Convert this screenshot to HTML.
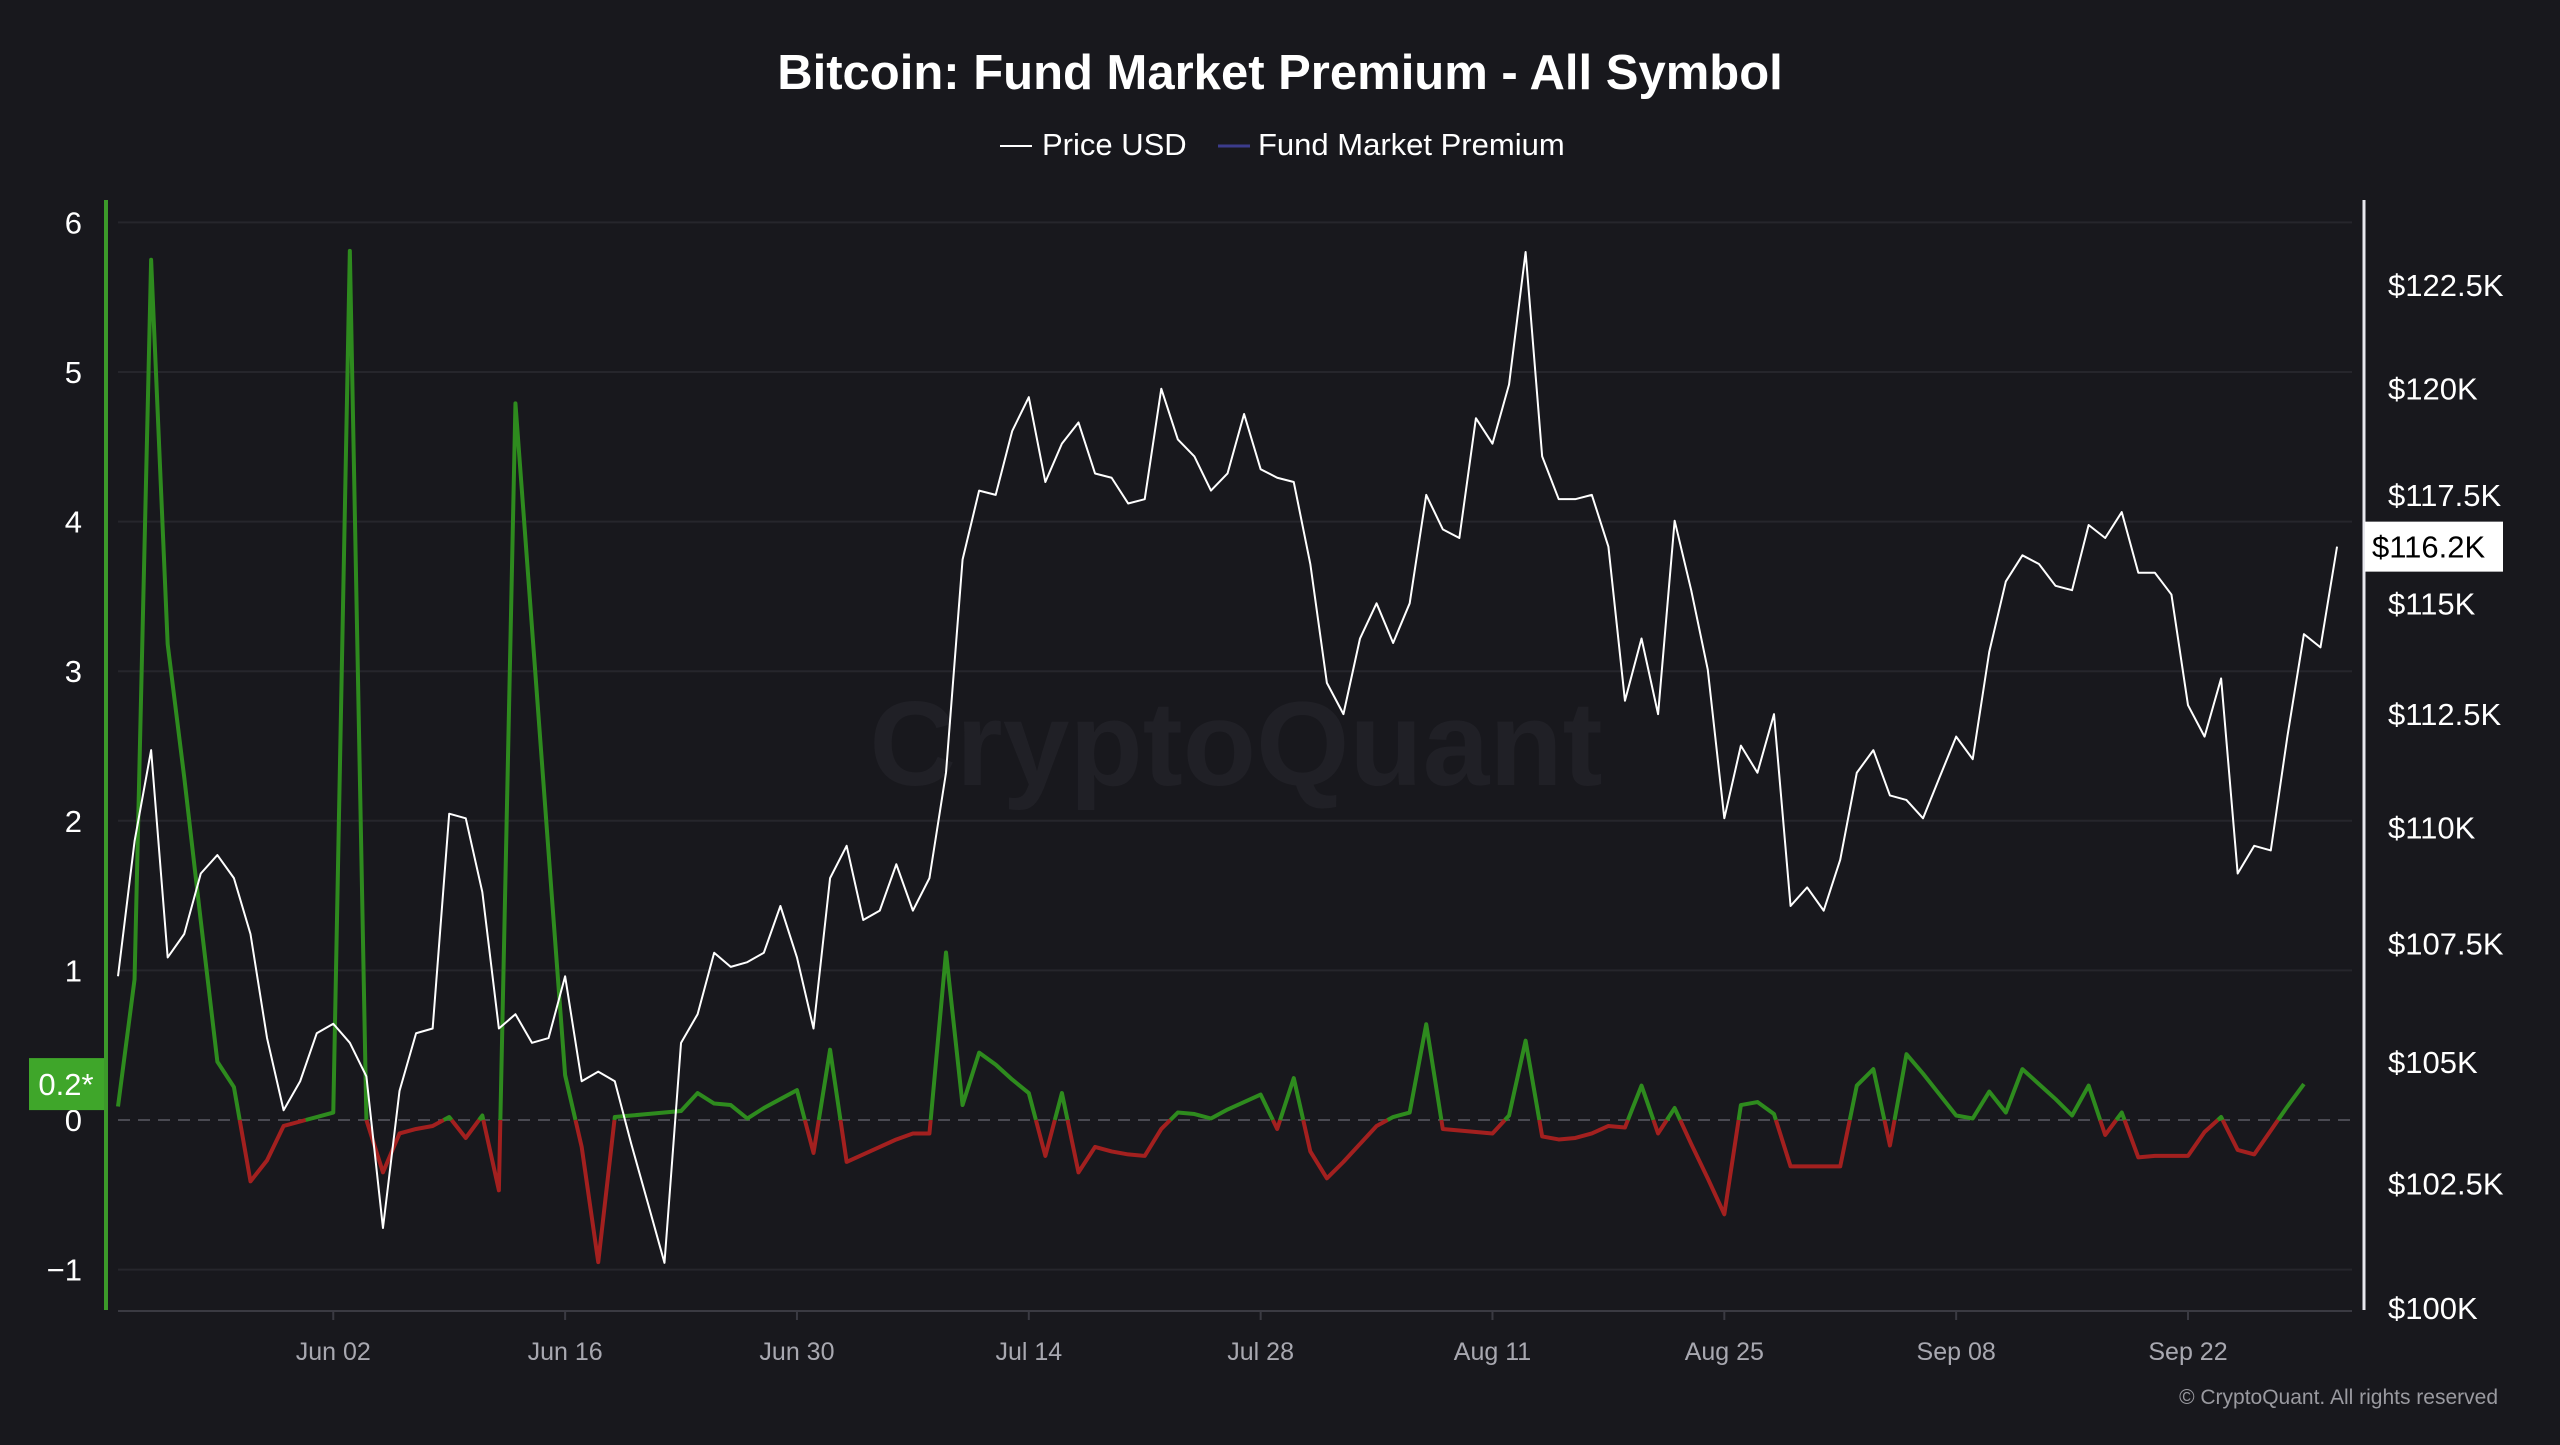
<!DOCTYPE html>
<html><head><meta charset="utf-8">
<style>
html,body{margin:0;padding:0;background:#18181d;}
body{width:2560px;height:1440px;overflow:hidden;font-family:"Liberation Sans",sans-serif;}
svg text{font-family:"Liberation Sans",sans-serif;}
</style></head>
<body>
<svg id="chart" width="2560" height="1440" viewBox="0 0 2560 1440" xmlns="http://www.w3.org/2000/svg">
<rect x="0" y="0" width="2560" height="1440" fill="#18181d"/>
<text x="1280" y="89" text-anchor="middle" fill="#ffffff" font-size="49" font-weight="bold">Bitcoin: Fund Market Premium - All Symbol</text>
<g>
<g>
<line x1="1000" y1="146" x2="1032" y2="146" stroke="#ffffff" stroke-width="2"/>
<text x="1042" y="155" fill="#ffffff" font-size="31">Price USD</text>
</g>
<g>
<line x1="1218" y1="146" x2="1250" y2="146" stroke="#3b3b8c" stroke-width="3"/>
<text x="1258" y="155" fill="#ffffff" font-size="31">Fund Market Premium</text>
</g>
</g>
<text x="1236" y="785" text-anchor="middle" fill="#202026" font-size="120" font-weight="bold">CryptoQuant</text>
<g id="grid"></g>
<g id="axes"></g>
<g id="series"></g>
<text x="2498" y="1404" text-anchor="end" fill="#9a9aa0" font-size="21">© CryptoQuant. All rights reserved</text>
</svg>
<script>
const startDate = [2025, 4, 20];
const xTickLabels = ["Jun 02","Jun 16","Jun 30","Jul 14","Jul 28","Aug 11","Aug 25","Sep 08","Sep 22"];
const xTickIndex = [13,27,41,55,69,83,97,111,125];
const leftTicks = [-1,0,1,2,3,4,5,6];
const rightTicks = [100,102.5,105,107.5,110,112.5,115,117.5,120,122.5];
const rightTickLabels = ["$100K","$102.5K","$105K","$107.5K","$110K","$112.5K","$115K","$117.5K","$120K","$122.5K"];
const priceK = [106.8,109.7,111.7,107.2,107.7,109.0,109.4,108.9,107.7,105.5,104.0,104.6,105.6,105.8,105.4,104.7,101.6,104.4,105.6,105.7,
110.3,110.2,108.6,105.7,106.0,105.4,105.5,106.8,104.6,104.8,104.6,103.3,102.1,100.9,105.4,106.0,107.3,107.0,107.1,107.3,
108.3,107.2,105.7,108.9,109.6,108.0,108.2,109.2,108.2,108.9,111.2,116.0,117.6,117.5,119.0,119.8,117.8,118.7,119.2,118.0,
117.9,117.3,117.4,120.0,118.8,118.4,117.6,118.0,119.4,118.1,117.9,117.8,115.9,113.2,112.5,114.2,115.0,114.1,115.0,117.5,
116.7,116.5,119.3,118.7,120.1,123.3,118.4,117.4,117.4,117.5,116.3,112.8,114.2,112.5,116.9,115.3,113.5,110.2,111.8,111.2,
112.5,108.3,108.7,108.2,109.3,111.2,111.7,110.7,110.6,110.2,111.1,112.0,111.5,113.9,115.5,116.1,115.9,115.4,115.3,116.8,
116.5,117.1,115.7,115.7,115.2,112.7,112.0,113.3,109.0,109.6,109.5,112.0,114.3,114.0,116.3];
const premium = [0.09,0.94,5.75,3.18,2.29,1.33,0.39,0.22,-0.41,-0.27,-0.04,-0.01,0.02,0.05,5.81,0.0,-0.35,-0.09,-0.06,-0.04,
0.02,-0.12,0.03,-0.47,4.79,3.29,1.79,0.30,-0.18,-0.95,0.02,0.03,0.04,0.05,0.06,0.18,0.11,0.10,0.01,0.08,
0.14,0.20,-0.22,0.47,-0.28,-0.23,-0.18,-0.13,-0.09,-0.09,1.12,0.10,0.45,0.37,0.27,0.18,-0.24,0.18,-0.35,-0.18,
-0.21,-0.23,-0.24,-0.06,0.05,0.04,0.01,0.07,0.12,0.17,-0.06,0.28,-0.21,-0.39,-0.28,-0.16,-0.04,0.02,0.05,0.64,
-0.06,-0.07,-0.08,-0.09,0.03,0.53,-0.11,-0.13,-0.12,-0.09,-0.04,-0.05,0.23,-0.09,0.08,-0.16,-0.39,-0.63,0.10,0.12,
0.04,-0.31,-0.31,-0.31,-0.31,0.23,0.34,-0.17,0.44,0.31,0.17,0.03,0.01,0.19,0.05,0.34,0.24,0.14,0.03,0.23,
-0.10,0.05,-0.25,-0.24,-0.24,-0.24,-0.08,0.02,-0.20,-0.23,-0.07,0.09,0.24];
const lastPriceLabel = "$116.2K";
const lastPremiumLabel = "0.2*";

const NS = "http://www.w3.org/2000/svg";
const X0 = 118, DX = 16.56;
function xScale(i){ return X0 + DX*i; }
function yLeft(v){ return 1120 - 149.6*v; }
const K = 5042;
function yRight(p){ return 1308 - K*Math.log(p/100); }
function mk(tag, attrs, parent){ const e=document.createElementNS(NS,tag); for(const k in attrs) e.setAttribute(k,attrs[k]); parent.appendChild(e); return e; }

const grid = document.getElementById('grid');
const axes = document.getElementById('axes');
const series = document.getElementById('series');

leftTicks.forEach(v=>{
  const y=yLeft(v);
  if(v===0){
    const l=mk('line',{x1:118,x2:2352,y1:y,y2:y,stroke:'#4a4a52','stroke-width':2,'stroke-dasharray':'12 8'},grid);
    
    
  } else {
    const l=mk('line',{x1:118,x2:2352,y1:y,y2:y,stroke:'#26262c','stroke-width':2},grid);
    
    
  }
  const t=mk('text',{x:82,y:y+11,'text-anchor':'end',fill:'#ffffff','font-size':31},axes);
  t.textContent = v<0 ? '\u2212'+Math.abs(v) : String(v);
  
  
});
rightTicks.forEach((p,k)=>{
  const y=yRight(p);
  const t=mk('text',{x:2388,y:y+11,fill:'#ffffff','font-size':31},axes);
  t.textContent=rightTickLabels[k];
  
  
});
const la=mk('line',{x1:106,x2:106,y1:200,y2:1310,stroke:'#3c9a2a','stroke-width':4},axes);


const ra=mk('line',{x1:2364,x2:2364,y1:200,y2:1310,stroke:'#e8e8ee','stroke-width':3},axes);


const xa=mk('line',{x1:118,x2:2352,y1:1311,y2:1311,stroke:'#3a3a42','stroke-width':2},axes);


xTickLabels.forEach((lab,k)=>{
  const x=xScale(xTickIndex[k]);
  const tk=mk('line',{x1:x,x2:x,y1:1311,y2:1320,stroke:'#3a3a42','stroke-width':2},axes);
  
  
  const t=mk('text',{x:x,y:1360,'text-anchor':'middle',fill:'#a8a8b0','font-size':25},axes);
  t.textContent=lab;
  
  
});

function addSeg(pts, pos){
  const pl=mk('polyline',{points:pts.map(p=>p.join(',')).join(' '),fill:'none',stroke:pos?'#2e8b1e':'#a3201f','stroke-width':4,'stroke-linejoin':'round'},series);
  
  
}
let cur=[[xScale(0),yLeft(premium[0])]], curPos=premium[0]>=0;
for(let i=1;i<premium.length;i++){
  const a=premium[i-1], b=premium[i];
  const pos=b>=0;
  if(pos!==curPos){
    const t=a/(a-b);
    const xc=xScale(i-1)+t*DX, yc=yLeft(0);
    cur.push([xc,yc]); addSeg(cur,curPos);
    cur=[[xc,yc]]; curPos=pos;
  }
  cur.push([xScale(i),yLeft(b)]);
}
addSeg(cur,curPos);

const pp=mk('polyline',{points:priceK.map((p,i)=>xScale(i)+','+yRight(p)).join(' '),fill:'none',stroke:'#ffffff','stroke-width':2,'stroke-linejoin':'round'},series);



const yp=yRight(priceK[priceK.length-1]);
const bg=mk('rect',{x:2365,y:yp-25,width:138,height:50,fill:'#ffffff'},axes);


const bt=mk('text',{x:2372,y:yp+11,fill:'#000000','font-size':31},axes);
bt.textContent=lastPriceLabel;


const ym=yLeft(premium[premium.length-1]);
const gb=mk('rect',{x:29,y:ym-26,width:75,height:52,fill:'#3fa62a'},axes);


const gt=mk('text',{x:66,y:ym+11,'text-anchor':'middle',fill:'#ffffff','font-size':31},axes);
gt.textContent=lastPremiumLabel;


</script>
</body></html>
